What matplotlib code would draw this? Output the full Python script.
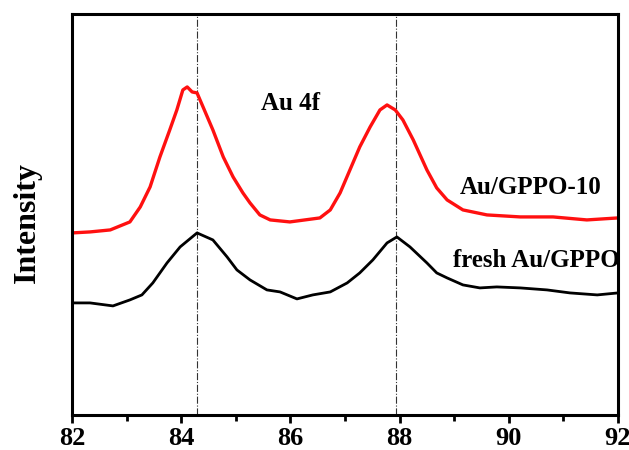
import numpy as np
import matplotlib
matplotlib.use('Agg')
import matplotlib.pyplot as plt
from matplotlib.ticker import MultipleLocator

# Au 4f XPS spectra, intensity in arbitrary units (offset stacked)
x_used = [82.00, 82.33, 82.70, 83.06, 83.25, 83.43, 83.61, 83.79, 83.92, 84.03,
          84.11, 84.20, 84.29, 84.40, 84.58, 84.77, 84.95, 85.13, 85.26, 85.44,
          85.63, 85.99, 86.54, 86.73, 86.91, 87.09, 87.27, 87.46, 87.64, 87.77,
          87.92, 88.06, 88.25, 88.50, 88.68, 88.87, 89.16, 89.60, 90.21, 90.81,
          91.43, 92.00]
y_used = [182, 183, 185, 193, 208, 228, 258, 285, 305, 325,
          328, 323, 322, 308, 285, 258, 238, 222, 212, 200,
          195, 193, 197, 205, 222, 245, 268, 288, 305, 310,
          305, 295, 275, 245, 227, 215, 205, 200, 198, 198,
          195, 197]

x_fresh = [82.00, 82.33, 82.75, 83.06, 83.28, 83.48, 83.74, 83.98, 84.29, 84.58,
           84.84, 85.02, 85.26, 85.57, 85.81, 86.12, 86.41, 86.73, 87.04, 87.27,
           87.51, 87.77, 87.95, 88.19, 88.50, 88.68, 88.87, 89.16, 89.47, 89.78,
           90.21, 90.70, 91.12, 91.62, 92.00]
y_fresh = [112, 112, 109, 115, 120, 132, 152, 168, 182, 175,
           158, 145, 135, 125, 123, 116, 120, 123, 132, 142,
           155, 172, 178, 168, 152, 142, 137, 130, 127, 128,
           127, 125, 122, 120, 122]

peak_pos = [84.28, 87.93]

plt.rcParams['font.family'] = 'Liberation Serif'
plt.rcParams['font.weight'] = 'bold'

fig = plt.figure(figsize=(6.29, 4.5), dpi=100)
ax = fig.add_axes([0.1145, 0.078, 0.868, 0.891])

for p in peak_pos:
    ax.axvline(p, color='#333333', lw=0.8, ls='-.')

ax.plot(x_used, y_used, color='#ff1010', lw=2.4, solid_joinstyle='round')
ax.plot(x_fresh, y_fresh, color='black', lw=2.0, solid_joinstyle='round')

ax.text(86.01, 311, 'Au 4f', fontsize=18, fontweight='bold', ha='center', va='center')
ax.text(89.11, 227, 'Au/GPPO-10', fontsize=18, fontweight='bold', ha='left', va='center')
ax.text(88.98, 154, 'fresh Au/GPPO', fontsize=18, fontweight='bold', ha='left', va='center')

ax.set_xlim(82, 92)
ax.set_ylim(0, 401)
ax.xaxis.set_major_locator(MultipleLocator(2))
ax.xaxis.set_minor_locator(MultipleLocator(1))
ax.set_yticks([])
ax.tick_params(axis='x', which='major', direction='out', length=6, width=2, labelsize=19, pad=3)
ax.tick_params(axis='x', which='minor', direction='out', length=4, width=2)
for lab in ax.get_xticklabels():
    lab.set_fontweight('bold')
for s in ax.spines.values():
    s.set_linewidth(2.2)
ax.set_ylabel('Intensity', fontsize=23, fontweight='bold')
ax.yaxis.set_label_coords(-0.055, 0.48)

fig.savefig('out.png', dpi=100)
